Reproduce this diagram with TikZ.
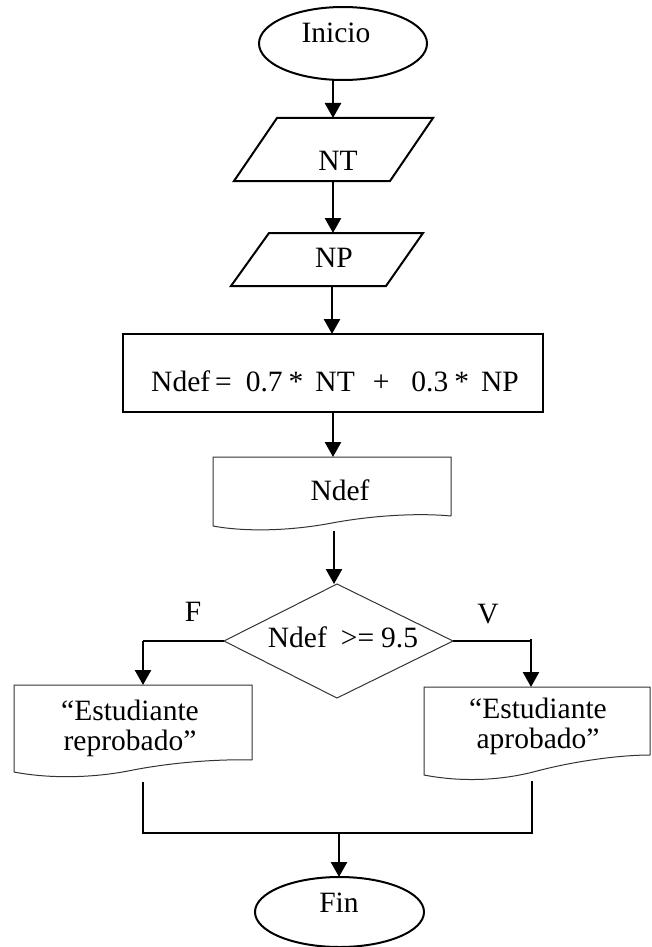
\documentclass[tikz,border=0pt]{standalone}
\usepackage{fontspec}
\setmainfont{Liberation Serif}
\usetikzlibrary{arrows.meta,shapes.geometric}
\begin{document}
\begin{tikzpicture}[x=1pt,y=-1pt,
  every node/.style={font=\fontsize{29.5}{30}\selectfont, inner sep=0pt, outer sep=0pt},
  txt/.style={align=center},
  thickshape/.style={draw=black,line width=2pt},
  thinshape/.style={draw=black!80,line width=1pt},
  link/.style={draw=black,line width=1.3pt},
  arr/.style={draw=black,line width=2.5pt,-{Triangle[width=16pt,length=15pt]}},
]
\useasboundingbox (0,0) rectangle (652,947);

% Inicio
\node[ellipse, thickshape, minimum width=168pt, minimum height=73pt] (inicio) at (343,43.5) {};
\node (tinicio) at (336,33) {Inicio};

% NT
\draw[thickshape] (277,118) -- (433,118) -- (390,181) -- (234,181) -- cycle;
\node (nt) at (338,161) {NT};
% NP
\draw[thickshape] (269,233) -- (423,233) -- (386,286) -- (231,286) -- cycle;
\node (np) at (334,258) {NP};

% calc
\node[rectangle, thickshape, minimum width=420pt, minimum height=78pt] (calc) at (333,373) {};
\node (tcalc) at (335,381) {Ndef\hspace{5pt}=\hspace{14pt}0.7\hspace{6pt}*\hspace{12pt}NT\hspace{18pt}+\hspace{22pt}0.3\hspace{6pt}*\hspace{12pt}NP};

% doc Ndef
\draw[thinshape] (451,516) -- (451,457) -- (213,457) -- (213,526)
  .. controls (245,532) and (290,531) .. (332,523)
  .. controls (375,515) and (420,513) .. (451,516);
\node (out) at (340,490) {Ndef};

% decision
\draw[thinshape] (337,584) -- (453,641) -- (337,698) -- (224,641) -- cycle;
\node (dec) at (343,637) {Ndef\hspace{14pt}>=\hspace{7pt}9.5};
\node (lf) at (193,612) {F};
\node (lv) at (488,614) {V};

% left doc
\draw[thinshape] (252,760) -- (252,685) -- (14,685) -- (14,772)
  .. controls (50,779) and (95,778) .. (133,770)
  .. controls (175,762) and (220,759) .. (252,760);
\node[txt] (rep) at (130,728) {“Estudiante\\reprobado”};

% right doc
\draw[thinshape] (650,755) -- (650,687) -- (424,687) -- (424,775)
  .. controls (460,782) and (500,781) .. (537,771)
  .. controls (575,761) and (620,755) .. (650,755);
\node[txt] (apr) at (538,726) {“Estudiante\\aprobado”};

% Fin
\node[ellipse, thickshape, minimum width=169pt, minimum height=70pt] (fin) at (339.5,912) {};
\node (tfin) at (339,903) {Fin};

% connector points
\coordinate (iB) at (333,80);
\coordinate (ntT) at (333,118);
\coordinate (ntB) at (333,181);
\coordinate (npT) at (333,233);
\coordinate (npB) at (332,286);
\coordinate (cT) at (332,334);
\coordinate (cB) at (333,412);
\coordinate (oT) at (333,457);
\coordinate (oB) at (334,531);
\coordinate (dT) at (334,584);
\coordinate (dL) at (224,641);
\coordinate (dR) at (453,641);
\coordinate (bL) at (143,641);
\coordinate (bR) at (531,641);
\coordinate (bR0) at (531,639);
\coordinate (lT) at (143,685);
\coordinate (rT) at (531,687);
\coordinate (lB) at (143,782);
\coordinate (rB) at (532,781);
\coordinate (jL) at (143,833);
\coordinate (jR) at (532,833);
\coordinate (jM) at (339,833);
\coordinate (fT) at (339,877);

\draw[arr] (iB) -- (ntT);
\draw[arr] (ntB) -- (npT);
\draw[arr] (npB) -- (cT);
\draw[arr] (cB) -- (oT);
\draw[arr] (oB) -- (dT);
\draw[link] (dL) -- (bL);
\draw[arr] (bL) -- (lT);
\draw[link] (dR) -- (bR);
\draw[arr] (bR0) -- (rT);
\draw[link] (lB) -- (jL) -- (jR) -- (rB);
\draw[arr] (jM) -- (fT);
\end{tikzpicture}
\end{document}
